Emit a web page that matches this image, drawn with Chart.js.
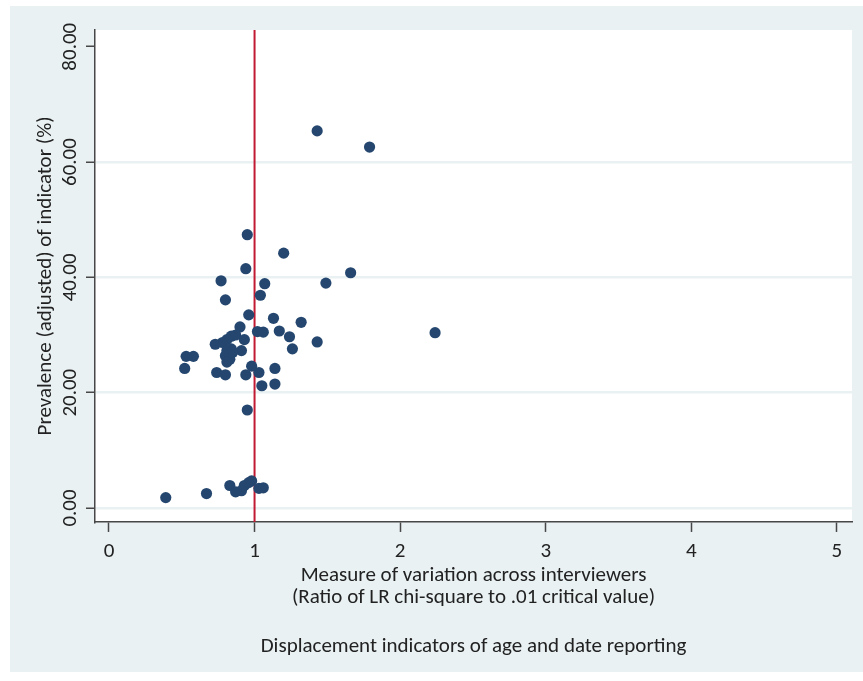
<!DOCTYPE html>
<html>
<head>
<meta charset="utf-8">
<script src="https://cdn.jsdelivr.net/npm/chart.js@4.4.1/dist/chart.umd.min.js"></script>
<style>
  html, body { margin: 0; padding: 0; background: #ffffff; }
  #wrap { width: 863px; height: 681px; }
</style>
</head>
<body>
<div id="wrap"><canvas id="chart" width="863" height="681"></canvas></div>
<script>
// Displacement indicators: interviewer variation ratio vs adjusted prevalence
const variationRatio = [
  1.43, 1.79, 0.95, 1.20, 0.94, 1.66, 0.77, 1.49, 1.07, 1.04,
  0.80, 0.96, 1.13, 1.32, 0.90, 1.02, 1.06, 1.17, 2.24, 0.87,
  0.84, 1.24, 0.93, 0.81, 1.43, 0.78, 0.73, 1.26, 0.84, 0.91,
  0.81, 0.85, 0.80, 0.53, 0.58, 0.83, 0.81, 0.98, 0.52, 1.14,
  0.74, 1.03, 0.80, 0.94, 1.14, 1.05, 0.95,
  0.39, 0.67, 0.83, 0.87, 0.91, 0.93, 0.96, 0.98, 1.03, 1.06
];
const prevalence = [
  65.4, 62.6, 47.4, 44.2, 41.5, 40.8, 39.4, 39.0, 38.9, 36.9,
  36.1, 33.5, 32.9, 32.2, 31.4, 30.6, 30.5, 30.7, 30.4, 30.0,
  29.8, 29.7, 29.2, 29.2, 28.8, 28.7, 28.4, 27.6, 27.6, 27.3,
  27.3, 27.0, 26.4, 26.3, 26.3, 25.8, 25.3, 24.6, 24.2, 24.2,
  23.5, 23.5, 23.1, 23.1, 21.5, 21.2, 17.0,
  1.8, 2.5, 3.9, 2.8, 3.0, 3.9, 4.4, 4.7, 3.4, 3.5
];
const xTickValues = [0, 1, 2, 3, 4, 5];
const yTickValues = [0, 20, 40, 60, 80];
const criticalRatio = 1;   // ratio equal to the .01 critical value

const xTitle = ['Measure of variation across interviewers', '(Ratio of LR chi-square to .01 critical value)'];
const yTitle = 'Prevalence (adjusted) of indicator (%)';
const caption = 'Displacement indicators of age and date reporting';

const xRange = { min: -0.096, max: 5.104 };
const yRange = { min: -2.42, max: 82.9 };

const FONT = "Carlito, Lato, 'Liberation Sans Narrow', sans-serif";
const TEXT = '#222222';
const AXIS = '#474747';
const PANEL = '#e9f1f3';
const SIZE = 21;

const points = variationRatio.map((x, i) => ({ x: x, y: prevalence[i] }));

// panel and white plot region behind everything
const backdrop = {
  id: 'backdrop',
  beforeDraw(chart) {
    const { ctx, chartArea: a } = chart;
    ctx.save();
    ctx.fillStyle = '#ffffff';
    ctx.fillRect(0, 0, chart.width, chart.height);
    ctx.fillStyle = PANEL;
    ctx.fillRect(10, 6, chart.width - 10, 666);
    ctx.fillStyle = '#ffffff';
    ctx.fillRect(a.left, a.top, a.right - a.left, a.bottom - a.top);
    ctx.restore();
  }
};

new Chart(document.getElementById('chart'), {
  type: 'scatter',
  data: {
    datasets: [
      {
        type: 'line',
        data: [{ x: criticalRatio, y: yRange.min }, { x: criticalRatio, y: yRange.max }],
        borderColor: '#c21a33',
        borderWidth: 2,
        pointRadius: 0,
        order: 2
      },
      {
        data: points,
        backgroundColor: '#25476f',
        borderWidth: 0,
        pointRadius: 5.6,
        order: 1
      }
    ]
  },
  options: {
    responsive: false,
    animation: false,
    devicePixelRatio: 1,
    layout: { padding: { top: 30, right: 11, left: 0, bottom: 23 } },
    plugins: {
      legend: { display: false },
      tooltip: { enabled: false },
      title: {
        display: true,
        text: caption,
        position: 'bottom',
        fullSize: false,
        color: TEXT,
        font: { family: FONT, size: SIZE, weight: 'normal', lineHeight: 1.05 },
        padding: { top: 27, bottom: 0 }
      }
    },
    scales: {
      x: {
        type: 'linear',
        min: xRange.min,
        max: xRange.max,
        afterBuildTicks: s => { s.ticks = xTickValues.map(v => ({ value: v })); },
        afterFit: s => { s.height = 87; },
        border: { display: true, color: AXIS, width: 1.5 },
        grid: { drawOnChartArea: false, drawTicks: true, tickLength: 10, tickColor: AXIS, tickWidth: 1.5 },
        ticks: {
          autoSkip: false, maxRotation: 0, padding: 7, color: TEXT,
          font: { family: FONT, size: SIZE },
          callback: v => String(v)
        },
        title: {
          display: true, text: xTitle, color: TEXT,
          font: { family: FONT, size: SIZE, lineHeight: 1.05 },
          padding: { top: 0, bottom: 0 }
        }
      },
      y: {
        type: 'linear',
        min: yRange.min,
        max: yRange.max,
        afterBuildTicks: s => { s.ticks = yTickValues.map(v => ({ value: v })); },
        afterFit: s => { s.width = 95; },
        border: { display: true, color: AXIS, width: 1.5 },
        grid: {
          drawOnChartArea: true,
          color: c => (c.tick && c.tick.value === 80 ? 'rgba(0,0,0,0)' : PANEL),
          lineWidth: 2.5,
          tickLength: 9, tickColor: AXIS, tickWidth: 1.5
        },
        ticks: {
          minRotation: 90, maxRotation: 90, crossAlign: 'center', padding: -9,
          color: TEXT, font: { family: FONT, size: SIZE },
          callback: v => Number(v).toFixed(2)
        },
        title: {
          display: true, text: yTitle, color: TEXT,
          font: { family: FONT, size: SIZE, lineHeight: 1.05 },
          padding: { top: 35, bottom: 0 }
        }
      }
    }
  },
  plugins: [backdrop]
});
</script>
</body>
</html>
